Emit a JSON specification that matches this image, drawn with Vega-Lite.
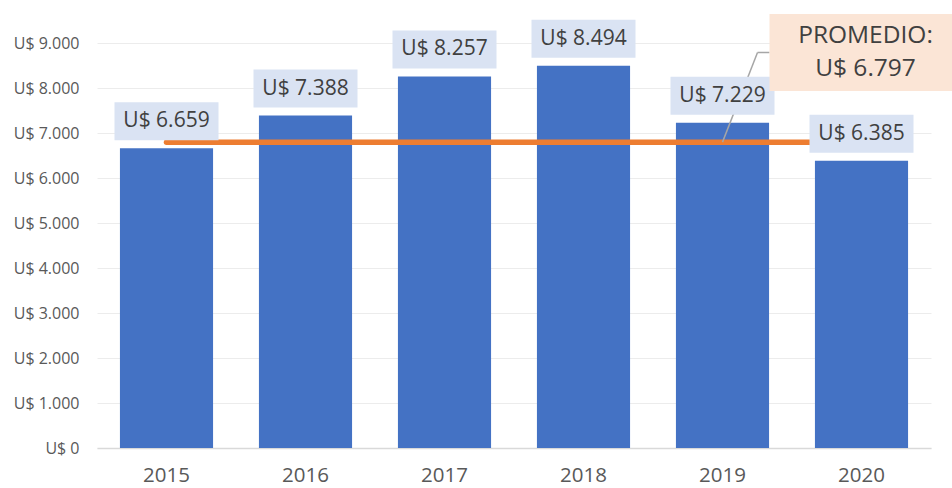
{
  "$schema": "https://vega.github.io/schema/vega-lite/v6.json",
  "autosize": "none",
  "width": 834,
  "height": 405,
  "padding": {"left": 97, "top": 43, "right": 21, "bottom": 40},
  "background": "white",
  "config": {
    "view": {"stroke": null},
    "font": "Open Sans"
  },
  "datasets": {
    "ventas": [
      {"anio": "2015", "valor": 6659, "etiqueta": "U$ 6.659"},
      {"anio": "2016", "valor": 7388, "etiqueta": "U$ 7.388"},
      {"anio": "2017", "valor": 8257, "etiqueta": "U$ 8.257"},
      {"anio": "2018", "valor": 8494, "etiqueta": "U$ 8.494"},
      {"anio": "2019", "valor": 7229, "etiqueta": "U$ 7.229"},
      {"anio": "2020", "valor": 6385, "etiqueta": "U$ 6.385"}
    ],
    "promedio": [
      {"anio": "2015", "valor": 6797},
      {"anio": "2020", "valor": 6797}
    ],
    "nota": [
      {"anio": "2020", "desde": "2019", "valor": 6797, "alto": 8789, "linea1": "PROMEDIO:", "linea2": "U$ 6.797"}
    ]
  },
  "layer": [
    {
      "data": {"name": "ventas"},
      "mark": {"type": "bar", "color": "#4472c4"},
      "encoding": {
        "x": {
          "field": "anio", "type": "nominal", "sort": null,
          "scale": {"paddingInner": 0.33, "paddingOuter": 0.165},
          "axis": {
            "title": null, "labelAngle": 0, "ticks": false,
            "domainColor": "#d9d9d9", "domainWidth": 1.3,
            "labelFontSize": 20.5, "labelColor": "#595959", "labelPadding": 17,
            "labelFont": "Open Sans"
          }
        },
        "y": {
          "field": "valor", "type": "quantitative",
          "scale": {"domain": [0, 9000], "nice": false},
          "axis": {
            "title": null, "values": [0, 1000, 2000, 3000, 4000, 5000, 6000, 7000, 8000, 9000],
            "labelExpr": "'U$ ' + replace(format(datum.value, ','), ',', '.')",
            "domain": false, "ticks": false,
            "gridColor": "#ececec", "gridWidth": 1,
            "labelFontSize": 16, "labelColor": "#595959", "labelPadding": 18,
            "labelFont": "Open Sans"
          }
        }
      }
    },
    {
      "data": {"name": "promedio"},
      "mark": {"type": "line", "color": "#ed7d31", "strokeWidth": 5.5, "strokeCap": "round"},
      "encoding": {
        "x": {"field": "anio", "type": "nominal", "sort": null},
        "y": {"field": "valor", "type": "quantitative"}
      }
    },
    {
      "data": {"name": "nota"},
      "mark": {"type": "rule", "color": "#a6a6a6", "strokeWidth": 1.5, "x2Offset": 35},
      "encoding": {
        "x": {"field": "desde", "type": "nominal"},
        "x2": {"field": "desde"},
        "y": {"field": "valor", "type": "quantitative"},
        "y2": {"field": "alto"}
      }
    },
    {
      "data": {"name": "nota"},
      "mark": {"type": "rule", "color": "#a6a6a6", "strokeWidth": 1.5, "xOffset": 35, "x2Offset": -92},
      "encoding": {
        "x": {"field": "desde", "type": "nominal"},
        "x2": {"field": "anio"},
        "y": {"field": "alto", "type": "quantitative"}
      }
    },
    {
      "data": {"name": "ventas"},
      "mark": {
        "type": "point", "filled": true, "opacity": 1, "color": "#dae3f3",
        "shape": "M-1,-0.3654L1,-0.3654L1,0.3654L-1,0.3654Z",
        "size": 10816, "yOffset": -27, "strokeWidth": 0
      },
      "encoding": {
        "x": {"field": "anio", "type": "nominal", "sort": null},
        "y": {"field": "valor", "type": "quantitative"}
      }
    },
    {
      "data": {"name": "ventas"},
      "mark": {
        "type": "text", "fontSize": 21, "color": "#404040", "font": "Open Sans",
        "baseline": "middle", "align": "center", "yOffset": -27
      },
      "encoding": {
        "x": {"field": "anio", "type": "nominal", "sort": null},
        "y": {"field": "valor", "type": "quantitative"},
        "text": {"field": "etiqueta"}
      }
    },
    {
      "data": {"name": "nota"},
      "mark": {
        "type": "point", "filled": true, "opacity": 1, "color": "#fbe5d6",
        "shape": "M-1,-0.401L1,-0.401L1,0.401L-1,0.401Z",
        "size": 36864, "xOffset": 4, "strokeWidth": 0
      },
      "encoding": {
        "x": {"field": "anio", "type": "nominal"},
        "y": {"field": "alto", "type": "quantitative"}
      }
    },
    {
      "data": {"name": "nota"},
      "mark": {
        "type": "text", "fontSize": 24.5, "color": "#404040", "font": "Open Sans",
        "baseline": "middle", "align": "center", "xOffset": 4, "yOffset": -16, "lineHeight": 33
      },
      "encoding": {
        "x": {"field": "anio", "type": "nominal"},
        "y": {"field": "alto", "type": "quantitative"},
        "text": {"value": ["PROMEDIO:", "U$ 6.797"]}
      }
    }
  ]
}
